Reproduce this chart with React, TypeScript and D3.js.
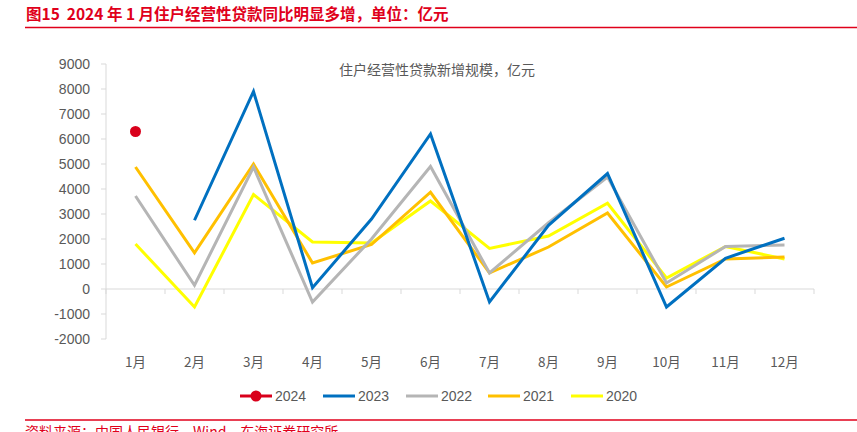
import * as React from 'react';
import {scaleBand, scaleLinear, line} from 'd3';

const months = ['1月', '2月', '3月', '4月', '5月', '6月', '7月', '8月', '9月', '10月', '11月', '12月'];
const s2024: (number | null)[] = [6300, null, null, null, null, null, null, null, null, null, null, null];
const s2023: (number | null)[] = [null, 2750, 7900, 50, 2800, 6200, -520, 2550, 4620, -720, 1230, 2030];
const s2022: (number | null)[] = [3720, 150, 4880, -520, 2000, 4900, 640, 2650, 4480, 240, 1700, 1760];
const s2021: (number | null)[] = [4880, 1450, 5000, 1040, 1780, 3870, 640, 1680, 3040, 80, 1200, 1280];
const s2020: (number | null)[] = [1800, -720, 3780, 1880, 1840, 3520, 1620, 2120, 3430, 440, 1700, 1200];
const yTicks = [9000, 8000, 7000, 6000, 5000, 4000, 3000, 2000, 1000, 0, -1000, -2000];

const seriesNames = ['2024', '2023', '2022', '2021', '2020'];
const seriesData = [s2024, s2023, s2022, s2021, s2020];
const colors = ['#d9001b', '#0070c0', '#b5b5b5', '#ffc000', '#ffff00'];

const width = 857;
const height = 432;
const left = 106;
const right = 814;
const red = '#e0001b';
const textGray = '#595959';
const axisGray = '#d9d9d9';
const numFont = '"Liberation Sans", Arial, sans-serif';
const cjkFont = '"Noto Sans CJK SC", "Liberation Sans", sans-serif';

const x = scaleBand().domain(months).range([left, right]);
const y = scaleLinear().domain([-2000, 9000]).range([339, 64]);

const mid = (m: string) => (x(m) || 0) + x.bandwidth() / 2;

const lineGen = line<number | null>()
    .defined(d => d !== null)
    .x((_, i) => mid(months[i]))
    .y(d => y(d as number));

const legendX = [240, 323, 406, 488, 571];

export default function App() {
    return (
        <svg width={width} height={height} style={{position: 'absolute', left: 0, top: 0}}>
            <rect width={width} height={height} fill="#fff"/>
            <text x={26} y={20} fill={red} fontSize={15.5} fontWeight="bold" fontFamily={cjkFont} style={{whiteSpace: 'pre'}}>
                {'图15  2024 年 1 月住户经营性贷款同比明显多增，单位：亿元'}
            </text>
            <line x1={25} x2={width} y1={27.5} y2={27.5} stroke={red} strokeWidth={1.5}/>

            <text x={437} y={75} textAnchor="middle" fill={textGray} fontSize={14} fontFamily={cjkFont}>
                住户经营性贷款新增规模，亿元
            </text>

            {/* y axis */}
            <line x1={left} x2={left} y1={y(9000)} y2={y(-2000)} stroke={axisGray}/>
            {yTicks.map(t => (
                <g key={t}>
                    <line x1={left - 5} x2={left} y1={y(t)} y2={y(t)} stroke={axisGray}/>
                    <text x={90} y={y(t) + 5} textAnchor="end" fill={textGray} fontSize={14} fontFamily={numFont}>{t}</text>
                </g>
            ))}

            {/* x axis at zero */}
            <line x1={left} x2={right} y1={y(0)} y2={y(0)} stroke={axisGray}/>
            {months.map(m => (
                <line key={'t' + m} x1={x(m)} x2={x(m)} y1={y(0)} y2={y(0) + 5} stroke={axisGray}/>
            ))}
            <line x1={right} x2={right} y1={y(0)} y2={y(0) + 5} stroke={axisGray}/>
            {months.map(m => (
                <text key={m} x={mid(m)} y={367} textAnchor="middle" fill={textGray} fontSize={13.5} fontFamily={cjkFont}>{m}</text>
            ))}

            {/* series, oldest drawn first */}
            {[4, 3, 2, 1].map(i => (
                <path key={seriesNames[i]} d={lineGen(seriesData[i]) || ''} fill="none" stroke={colors[i]} strokeWidth={3}/>
            ))}
            {s2024.map((v, i) => v === null ? null : (
                <circle key={i} cx={mid(months[i])} cy={y(v)} r={5.5} fill={colors[0]}/>
            ))}

            {/* legend */}
            {seriesNames.map((n, i) => (
                <g key={'l' + n}>
                    <line x1={legendX[i]} x2={legendX[i] + 32} y1={396} y2={396} stroke={colors[i]} strokeWidth={3}/>
                    {i === 0 && <circle cx={legendX[i] + 16} cy={396} r={5.5} fill={colors[0]}/>}
                    <text x={legendX[i] + 35} y={401} fill={textGray} fontSize={14} fontFamily={numFont}>{n}</text>
                </g>
            ))}

            <line x1={25} x2={width} y1={420} y2={420} stroke={red} strokeWidth={1.5}/>
            <text x={25} y={437} fill={red} fontSize={14} fontFamily={cjkFont}>
                资料来源：中国人民银行，Wind，东海证券研究所
            </text>
        </svg>
    );
}
